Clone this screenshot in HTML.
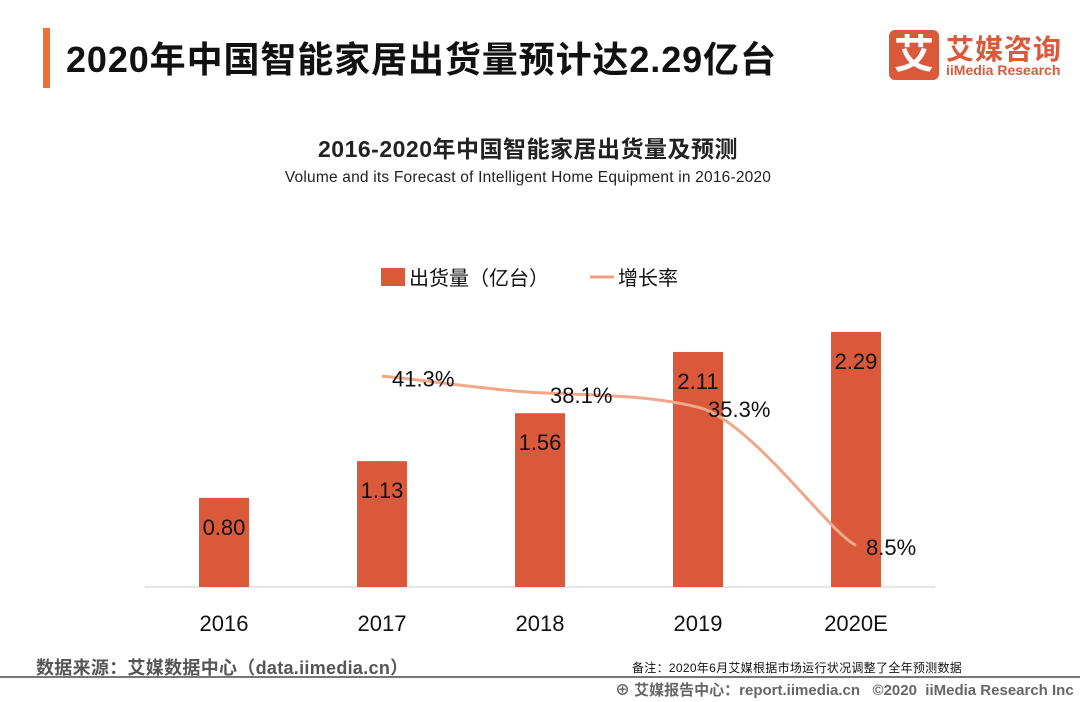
<!DOCTYPE html>
<html><head><meta charset="utf-8">
<style>
body{margin:0;width:1080px;height:702px;background:#fff;overflow:hidden;font-family:"Liberation Sans","Noto Sans CJK SC",sans-serif;position:relative}
.abs{position:absolute}
</style></head>
<body>
<div class="abs" style="left:43px;top:28px;width:7px;height:60px;background:#f07030"></div>
<div class="abs" style="left:66px;top:31px;font-size:36px;font-weight:bold;color:#111;letter-spacing:0.9px">2020年中国智能家居出货量预计达2.29亿台</div>
<div class="abs" style="left:889px;top:30px;width:50px;height:50px;background:#d9593a;border-radius:6px;color:#fff;font-size:40px;font-weight:bold;text-align:center;line-height:50px">艾</div>
<div class="abs" style="left:946px;top:28px;color:#d9593a;font-size:28px;font-weight:bold;letter-spacing:1px">艾媒咨询</div>
<div class="abs" style="left:946px;top:62px;color:#d9593a;font-size:14px;font-weight:bold">iiMedia Research</div>
<div class="abs" style="left:0;width:1056px;top:130px;text-align:center;font-size:23px;font-weight:bold;color:#222;letter-spacing:0.5px">2016-2020年中国智能家居出货量及预测</div>
<div class="abs" style="left:0;width:1056px;top:169px;text-align:center;font-size:15.5px;color:#222;letter-spacing:0.2px">Volume and its Forecast of Intelligent Home Equipment in 2016-2020</div>
<svg class="abs" style="left:0;top:0" width="1080" height="702" id="chart">
<rect x="381" y="268" width="24" height="18" fill="#d9593a"/>
<text x="409" y="285" font-size="20" fill="#111">出货量（亿台）</text>
<line x1="590" y1="277" x2="614" y2="277" stroke="#f0a080" stroke-width="3"/>
<text x="618" y="285" font-size="20" fill="#111">增长率</text>
<line x1="145" y1="587" x2="935" y2="587" stroke="#ccc" stroke-width="1"/>
</svg>
<div class="abs" style="left:36px;top:654px;font-size:18px;font-weight:bold;color:#555;letter-spacing:0.3px">数据来源：艾媒数据中心（data.iimedia.cn）</div>
<div class="abs" style="left:632px;top:659px;font-size:12px;color:#111;letter-spacing:0.3px">备注：2020年6月艾媒根据市场运行状况调整了全年预测数据</div>
<div class="abs" style="left:0;top:676px;width:1080px;height:2px;background:#777"></div>
<div class="abs" style="left:615px;top:679px;font-size:15px;font-weight:bold;color:#666">⊕ 艾媒报告中心：report.iimedia.cn &nbsp; ©2020 &nbsp;iiMedia Research Inc</div>
<script>
const categories=["2016","2017","2018","2019","2020E"];
const volumes=[0.80,1.13,1.56,2.11,2.29];
const volumeLabels=["0.80","1.13","1.56","2.11","2.29"];
const growth=[null,41.3,38.1,35.3,8.5];
const growthLabels=["","41.3%","38.1%","35.3%","8.5%"];
const svg=document.getElementById('chart');
const NS='http://www.w3.org/2000/svg';
const xPos=i=>224+i*158;
const yBar=v=>587-v*111.4;
const yPct=v=>589-v*5.15;
function mk(t,a){const e=document.createElementNS(NS,t);for(const k in a)e.setAttribute(k,a[k]);svg.appendChild(e);return e;}
categories.forEach((c,i)=>{
 const r=mk('rect',{x:xPos(i)-25,y:yBar(volumes[i]),width:50,height:587-yBar(volumes[i]),fill:'#d9593a'});
 
 
 const t=mk('text',{x:xPos(i),y:yBar(volumes[i])+37,'font-size':22,'text-anchor':'middle',fill:'#111'});
 t.textContent=volumeLabels[i];
 
 
 const xl=mk('text',{x:xPos(i),y:631,'font-size':22,'text-anchor':'middle',fill:'#111'});
 xl.textContent=c;
 
 
});
const pts=[];growth.forEach((g,i)=>{if(g!==null)pts.push([xPos(i),yPct(g)]);});
let d='M'+pts[0][0]+','+pts[0][1];
for(let i=0;i<pts.length-1;i++){
 const p0=pts[Math.max(i-1,0)],p1=pts[i],p2=pts[i+1],p3=pts[Math.min(i+2,pts.length-1)];
 const c1=[p1[0]+(p2[0]-p0[0])/6,p1[1]+(p2[1]-p0[1])/6*0.5];
 const c2=[p2[0]-(p3[0]-p1[0])/6,p2[1]-(p3[1]-p1[1])/6*0.5];
 d+=` C${c1[0]},${c1[1]} ${c2[0]},${c2[1]} ${p2[0]},${p2[1]}`;
}
const line=mk('path',{d:d,fill:'none',stroke:'#f0a888','stroke-width':3});


growth.forEach((g,i)=>{if(g===null)return;
 const t=mk('text',{x:xPos(i)+10,y:yPct(g)+10,'font-size':22,fill:'#111'});
 t.textContent=growthLabels[i];
 
 
});
</script>
</body></html>
